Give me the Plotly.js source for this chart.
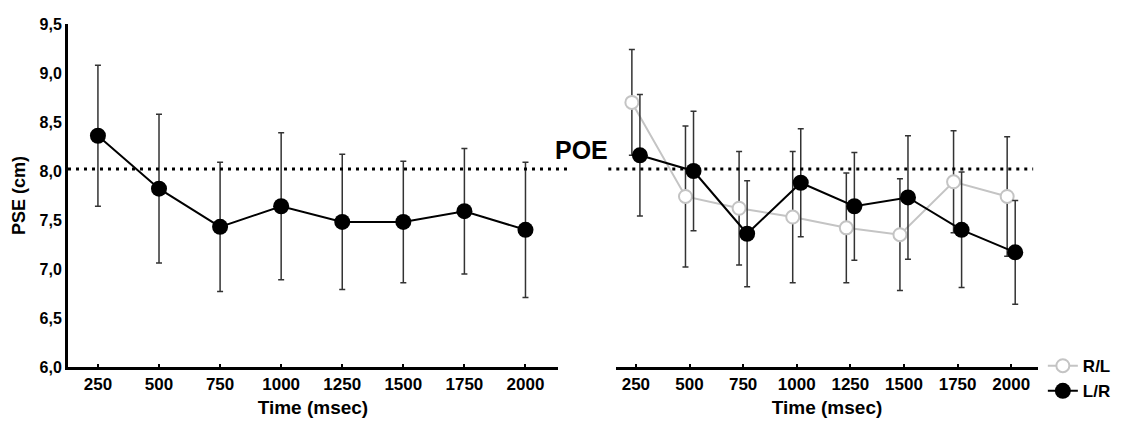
<!DOCTYPE html>
<html>
<head>
<meta charset="utf-8">
<script src="https://cdn.plot.ly/plotly-3.0.1.min.js"></script>
<style>html,body{margin:0;padding:0;background:#fff;}#chart{width:1125px;height:421px;}</style>
</head>
<body>
<div id="chart"></div>
<script>
// ---- data ----
const times = ['250', '500', '750', '1000', '1250', '1500', '1750', '2000'];
// left panel: overall PSE
const pseAll    = [8.36, 7.82, 7.43, 7.64, 7.48, 7.48, 7.59, 7.40];
const pseAllErr = [0.72, 0.76, 0.66, 0.75, 0.69, 0.62, 0.64, 0.69];
// right panel: R/L and L/R
const pseRL     = [8.70, 7.74, 7.62, 7.53, 7.42, 7.35, 7.89, 7.74];
const pseRLErr  = [0.54, 0.72, 0.58, 0.67, 0.56, 0.57, 0.52, 0.61];
const pseLR     = [8.16, 8.00, 7.36, 7.88, 7.64, 7.73, 7.40, 7.17];
const pseLRErr  = [0.62, 0.61, 0.54, 0.55, 0.55, 0.63, 0.59, 0.53];
const POE = 8.02;
const seriesNames = ['R/L', 'L/R'];

const FONT = 'Liberation Sans, Arial, sans-serif';
const errStyle = {type: 'data', visible: true, color: '#333', thickness: 1.5, width: 3};

const traces = [
  {
    x: times, y: pseAll, xaxis: 'x', yaxis: 'y', type: 'scatter', mode: 'lines+markers',
    showlegend: false,
    line: {color: '#000', width: 2},
    marker: {color: '#000', size: 16},
    error_y: Object.assign({array: pseAllErr}, errStyle)
  },
  {
    x: times, y: pseRL, xaxis: 'x2', yaxis: 'y', type: 'scatter', mode: 'lines+markers',
    name: seriesNames[0],
    line: {color: '#c4c4c4', width: 2},
    marker: {color: '#fff', size: 13, line: {color: '#c4c4c4', width: 2}},
    error_y: Object.assign({array: pseRLErr}, errStyle)
  },
  {
    x: times, y: pseLR, xaxis: 'x2', yaxis: 'y', type: 'scatter', mode: 'lines+markers',
    name: seriesNames[1],
    line: {color: '#000', width: 2},
    marker: {color: '#000', size: 16},
    error_y: Object.assign({array: pseLRErr}, errStyle)
  }
];

const xCommon = {
  type: 'category', showline: true, linecolor: '#000', linewidth: 3,
  ticks: 'inside', ticklen: 3, tickwidth: 2, tickcolor: '#000',
  showgrid: false, zeroline: false, anchor: 'y', automargin: false,
  tickfont: {family: FONT, size: 17, color: '#000', weight: 'bold'},
  title: {text: 'Time (msec)', font: {family: FONT, size: 19, color: '#000', weight: 'bold'}, standoff: 8}
};

const layout = {
  width: 1125, height: 421,
  margin: {l: 68, r: 87, t: 24, b: 54, autoexpand: false},
  paper_bgcolor: '#fff', plot_bgcolor: '#fff',
  separators: ', ',
  scattermode: 'group', scattergap: 0.7,
  showlegend: true,
  legend: {
    x: 1.005, xanchor: 'left', y: 0.055, yanchor: 'top',
    font: {family: FONT, size: 17, color: '#000', weight: 'bold'},
    tracegroupgap: 0, itemwidth: 30, bgcolor: 'rgba(0,0,0,0)'
  },
  xaxis: Object.assign({}, xCommon, {domain: [0, 0.505], range: [-0.49, 7.53]}),
  xaxis2: Object.assign({}, xCommon, {domain: [0.565, 1], range: [-0.37, 7.5]}),
  yaxis: {
    range: [6, 9.5], dtick: 0.5, tick0: 6, tickformat: '.1f',
    showline: true, linecolor: '#000', linewidth: 3, ticks: '',
    showgrid: false, zeroline: false, anchor: 'x', automargin: false,
    tickfont: {family: FONT, size: 16, color: '#000', weight: 'bold'},
    title: {text: 'PSE (cm)', font: {family: FONT, size: 18, color: '#000', weight: 'bold'}, standoff: 10}
  },
  shapes: [
    {type: 'line', xref: 'paper', yref: 'y', x0: 0, x1: 0.515, y0: POE, y1: POE,
     line: {color: '#000', width: 3, dash: '3px,5px'}},
    {type: 'line', xref: 'paper', yref: 'y', x0: 0.557, x1: 0.995, y0: POE, y1: POE,
     line: {color: '#000', width: 3, dash: '3px,5px'}}
  ],
  annotations: [
    {text: 'POE', xref: 'paper', yref: 'y', x: 0.529, y: 8.21, showarrow: false,
     font: {family: FONT, size: 25, color: '#000', weight: 'bold'}}
  ]
};

Plotly.newPlot('chart', traces, layout, {staticPlot: true, displayModeBar: false});
</script>
</body>
</html>
